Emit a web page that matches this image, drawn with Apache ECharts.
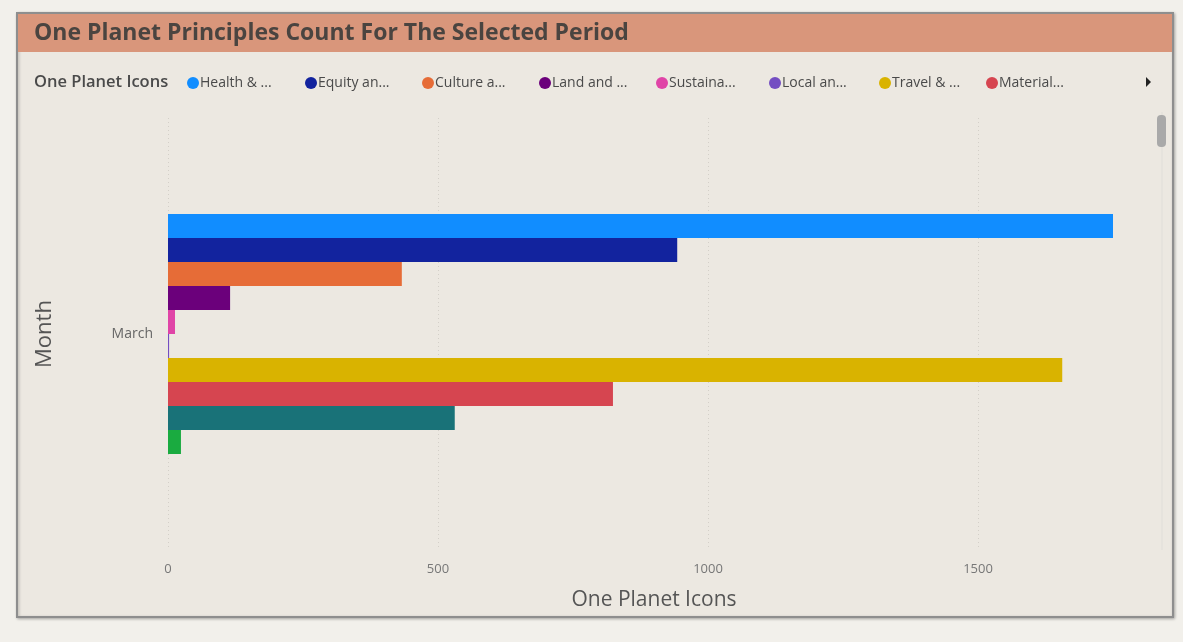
<!DOCTYPE html>
<html>
<head>
<meta charset="utf-8">
<style>
  html, body { margin: 0; padding: 0; background: #f2f0eb; }
  #chart { width: 1183px; height: 642px; }
</style>
<script src="https://cdn.jsdelivr.net/npm/echarts@6/dist/echarts.min.js"></script>
</head>
<body>
<div id="chart"></div>
<script>
// ---- data ----
const categories = ['March'];
const seriesNames = [
  'Health & happiness',
  'Equity and local economy',
  'Culture and community',
  'Land and nature',
  'Sustainable water',
  'Local and sustainable food',
  'Travel & transport',
  'Materials and products',
  'Zero waste',
  'Zero carbon energy'
];
const legendLabels = [
  'Health & ...', 'Equity an...', 'Culture a...', 'Land and ...',
  'Sustaina...', 'Local an...', 'Travel & ...', 'Material...'
];
const values = [1750, 943, 433, 115, 13, 2, 1656, 824, 531, 24];
const xTicks = [0, 500, 1000, 1500];

// ---- styles ----
const colors = ['#118DFF', '#12239E', '#E66C37', '#6B007B', '#E044A7',
                '#744EC2', '#D9B300', '#D64550', '#197278', '#1AAB40'];
const legendLeft = [187, 305, 422, 539, 656, 769, 879, 986];
const FONT = '"Open Sans", "DejaVu Sans", sans-serif';

const chart = echarts.init(document.getElementById('chart'), null, { renderer: 'canvas' });

const legends = legendLabels.map((lab, i) => ({
  show: true,
  left: legendLeft[i],
  top: 76,
  icon: 'circle',
  itemWidth: 12,
  itemHeight: 12,
  padding: 0,
  selectedMode: false,
  data: [seriesNames[i]],
  formatter: () => lab,
  textStyle: { color: '#4a4a4a', fontSize: 14, fontFamily: FONT, padding: [0, 0, 0, -4] }
}));

const option = {
  backgroundColor: '#f2f0eb',
  animation: false,
  color: colors,
  graphic: [
    { type: 'rect', z: -10, shape: { x: 17, y: 13, width: 1156, height: 604 },
      style: { fill: '#ece8e1', stroke: '#8e8e8e', lineWidth: 2,
               shadowBlur: 3, shadowColor: 'rgba(0,0,0,0.25)', shadowOffsetX: 1, shadowOffsetY: 1 } },
    { type: 'rect', z: -9, shape: { x: 18, y: 14, width: 1154, height: 38 },
      style: { fill: '#d9967b' } },
    { type: 'text', z: 10, left: 34, top: 22,
      style: { text: 'One Planet Principles Count For The Selected Period', fill: '#4a4440',
               font: 'bold 23px ' + FONT } },
    { type: 'text', z: 10, left: 34, top: 74,
      style: { text: 'One Planet Icons', fill: '#4a4a4a', font: '600 16.5px ' + FONT } },
    { type: 'polygon', z: 10, shape: { points: [[1146, 77], [1146, 87], [1151, 82]] },
      style: { fill: '#222' } },
    { type: 'rect', z: 5, shape: { x: 1161, y: 112, width: 2, height: 438 },
      style: { fill: '#e6e3dd' } },
    { type: 'rect', z: 6, shape: { x: 1157, y: 115, width: 9, height: 32, r: 4 },
      style: { fill: '#a9a9a9' } }
  ],
  legend: legends,
  grid: { left: 168, right: 43, top: 118, bottom: 92, containLabel: false },
  xAxis: {
    type: 'value',
    min: 0,
    max: 1800,
    interval: 500,
    name: 'One Planet Icons',
    nameLocation: 'middle',
    nameGap: 40,
    nameTextStyle: { color: '#555', fontSize: 21, fontFamily: FONT },
    axisLine: { show: false },
    axisTick: { show: false },
    axisLabel: {
      color: '#777', fontSize: 13, fontFamily: FONT, margin: 13,
      showMaxLabel: false,
      formatter: v => (xTicks.indexOf(v) >= 0 ? String(v) : '')
    },
    splitLine: { show: true, showMaxLine: false,
                 lineStyle: { color: '#d3cfc8', type: [1, 3], width: 1 } }
  },
  yAxis: {
    type: 'category',
    data: categories,
    name: 'Month',
    nameLocation: 'middle',
    nameGap: 112,
    nameTextStyle: { color: '#555', fontSize: 22, fontFamily: FONT },
    axisLine: { show: false },
    axisTick: { show: false },
    axisLabel: { color: '#666', fontSize: 14, fontFamily: FONT, margin: 15 },
    splitLine: { show: false }
  },
  series: seriesNames.map((name, i) => ({
    name: name,
    type: 'bar',
    barWidth: 24,
    barGap: '0%',
    itemStyle: { color: colors[i] },
    data: [values[i]]
  }))
};

chart.setOption(option);
</script>
</body>
</html>
